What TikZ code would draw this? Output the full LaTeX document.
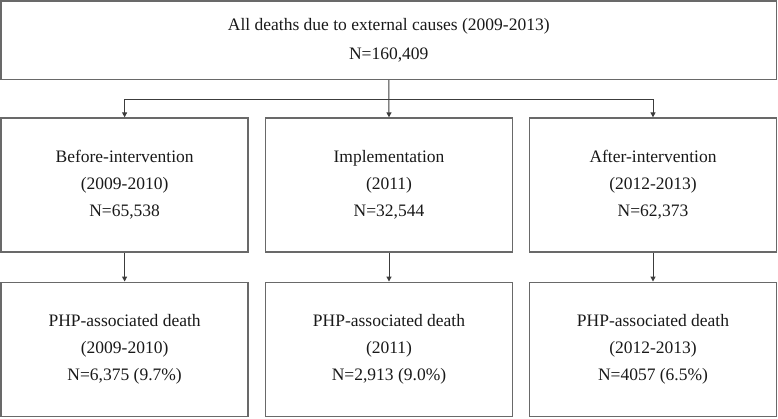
\documentclass[tikz,border=0pt]{standalone}
\usepackage{fontspec}
\setmainfont{Liberation Serif}
\usetikzlibrary{arrows.meta}
\definecolor{boxline}{RGB}{105,105,105}
\definecolor{arrline}{RGB}{60,60,60}
\definecolor{txt}{RGB}{25,25,25}
\tikzset{
  flowbox/.style={draw=boxline, line width=1.5pt, rectangle, align=center,
    minimum width=247pt, minimum height=134pt, inner sep=0pt, text=txt,
    font=\fontsize{17.5}{27}\selectfont},
  topbox/.style={draw=boxline, line width=1.5pt, rectangle, align=center,
    minimum width=775.5pt, minimum height=78.3pt, inner sep=0pt, text=txt,
    font=\fontsize{17.5}{28.4}\selectfont},
  conn/.style={draw=arrline, line width=1pt},
  arr/.style={conn, -{Triangle[length=5pt,width=5pt]}}
}
\begin{document}
\begin{tikzpicture}[x=1pt,y=-1pt]
\useasboundingbox (0,0) rectangle (778,418);
\node[topbox] (top) at (388.75,40.1) {All deaths due to external causes (2009-2013)\\N=160,409};
\node[flowbox] (b1) at (124.6,185.1) {Before-intervention\\(2009-2010)\\N=65,538};
\node[flowbox] (b2) at (389,185.1) {Implementation\\(2011)\\N=32,544};
\node[flowbox] (b3) at (653,185.1) {After-intervention\\(2012-2013)\\N=62,373};
\node[flowbox] (c1) at (124.6,349.3) {PHP-associated death\\(2009-2010)\\N=6,375 (9.7\%)};
\node[flowbox] (c2) at (389,349.3) {PHP-associated death\\(2011)\\N=2,913 (9.0\%)};
\node[flowbox] (c3) at (653,349.3) {PHP-associated death\\(2012-2013)\\N=4057 (6.5\%)};
\coordinate (split) at (389,99);
\draw[arr] (top.south) -- (b2.north);
\draw[arr] (split) -| (b1.north);
\draw[arr] (split) -| (b3.north);
\draw[arr] (b1.south) -- (c1.north);
\draw[arr] (b2.south) -- (c2.north);
\draw[arr] (b3.south) -- (c3.north);
\end{tikzpicture}
\end{document}
